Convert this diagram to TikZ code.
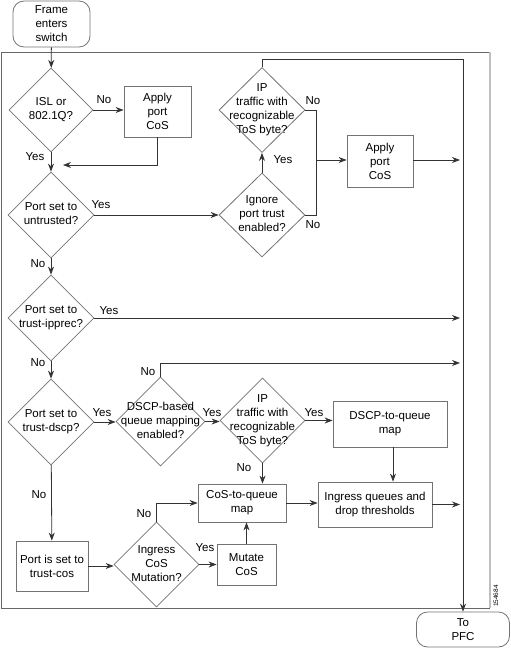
\documentclass[tikz,border=0pt]{standalone}
\usepackage{fontspec}
\setmainfont{Liberation Sans}
\usetikzlibrary{shapes.geometric,arrows.meta}
\newcommand{\dtext}[1]{\makebox[0pt]{\begin{tabular}{@{}c@{}}#1\end{tabular}}}
\begin{document}
\begin{tikzpicture}[x=1pt,y=-1pt,
  font=\fontsize{11.5}{14}\selectfont,
  shapeline/.style={draw=black!55,line width=0.8pt},
  box/.style={shapeline,rectangle,align=center,inner sep=0pt},
  term/.style={box,rounded corners=11pt},
  dia/.style={shapeline,diamond,inner sep=0pt,minimum width=86pt,minimum height=86pt},
  conn/.style={draw=black!80,line width=0.8pt},
  arr/.style={conn,-{Stealth[length=8pt,width=6pt]}},
  lab/.style={inner sep=0pt}]
\useasboundingbox (0,0) rectangle (511,648);
% outer frame
\coordinate (fa) at (1,52);
\coordinate (fb) at (490,52);
\coordinate (fc) at (490,608);
\coordinate (fd) at (1,608);
\draw[draw=black!60,line width=0.8pt] (fb) -- (fa) -- (fd) -- (fc);
\draw[draw=black!25,line width=1.2pt] (fb) -- (fc);
\node[lab,rotate=90,font=\fontsize{6.5}{7}\selectfont] (fig) at (496,596) {154684};
% nodes
\node[term,minimum width=77pt,minimum height=46pt] (start) at (51.5,24) {Frame\\enters\\switch};
\node[dia,minimum width=84pt,minimum height=84pt] (d1) at (51,110) {\dtext{ISL or\\802.1Q?}};
\node[box,minimum width=67pt,minimum height=51pt] (apply1) at (157.5,111.5) {Apply\\port\\CoS};
\node[dia] (d2) at (51,215) {\dtext{Port set to\\untrusted?}};
\node[dia,minimum height=84pt] (ign) at (262,215) {\dtext{Ignore\\port trust\\enabled?}};
\node[dia,minimum height=85pt] (ip1) at (262,110) {\dtext{IP\\traffic with\\recognizable\\ToS byte?}};
\node[box,minimum width=66pt,minimum height=52pt] (apply2) at (380,161) {Apply\\port\\CoS};
\node[dia] (d3) at (51,318) {\dtext{Port set to\\trust-ipprec?}};
\node[dia] (d4) at (51,422) {\dtext{Port set to\\trust-dscp?}};
\node[dia,minimum width=89pt,minimum height=89pt] (dscp) at (160.5,421.5) {\dtext{DSCP-based\\queue mapping\\enabled?}};
\node[dia,minimum width=85pt,minimum height=85pt] (ip2) at (262.5,420.5) {\dtext{IP\\traffic with\\recognizable\\ToS byte?}};
\node[box,minimum width=114pt,minimum height=46pt] (dmap) at (390,424) {DSCP-to-queue\\map};
\node[box,minimum width=114pt,minimum height=45pt] (ingress) at (375,504.5) {Ingress queues and\\drop thresholds};
\node[box,minimum width=88pt,minimum height=38pt] (cmap) at (242,503) {CoS-to-queue\\map};
\node[box,minimum width=72pt,minimum height=50pt] (tcos) at (52,566) {Port is set to\\trust-cos};
\node[dia,minimum width=85pt,minimum height=85pt] (mut) at (156.5,564.5) {\dtext{Ingress\\CoS\\Mutation?}};
\node[box,minimum width=59pt,minimum height=41pt] (mcos) at (246.5,564.5) {Mutate\\CoS};
\node[term,minimum width=93pt,minimum height=35pt] (pfc) at (463,629.5) {To\\PFC};
% coordinates for free ends
\coordinate (j1) at (63,165);
\coordinate (tr) at (463,59);
\coordinate (sp) at (316,160);
\coordinate (e1) at (460,160);
\coordinate (e2) at (460,318);
\coordinate (e3) at (460,363);
\coordinate (e4) at (460,504.5);
% connectors
\draw[arr] (start) -- (d1);
\draw[arr] (d1.east) -- (d1.east -| apply1.west);
\draw[arr] (apply1.south) |- (j1);
\draw[arr] (d1) -- (d2);
\draw[arr] (d2) -- (ign);
\draw[arr] (ign) -- (ip1);
\draw[arr] (ip1.north) |- (tr) -- (pfc.north);
\draw[conn] (ip1.east) -- ++(11,0) |- (ign.east);
\draw[arr] (sp) -- (sp -| apply2.west);
\draw[arr] (apply2.east |- e1) -- (e1);
\draw[arr] (d2) -- (d3);
\draw[arr] (d3) -- (e2);
\draw[arr] (d3) -- (d4);
\draw[arr] (d4) -- (d4.east -| dscp.west);
\draw[arr] (dscp.north) |- (e3);
\draw[arr] (dscp.east) -- (dscp.east -| ip2.west);
\draw[arr] (ip2.east) -- (ip2.east -| dmap.west);
\draw[arr] ([xshift=3pt]dmap.south) -- ([xshift=3pt]dmap.south |- ingress.north);
\draw[arr] (ingress.east) -- (e4);
\draw[arr] (ip2.south) -- (ip2.south |- cmap.north);
\draw[arr] (cmap.east) -- (cmap.east -| ingress.west);
\draw[arr] (d4) -- (tcos);
\draw[arr] (tcos.east) -- (tcos.east -| mut.west);
\draw[arr] (mut.north) |- (cmap.west);
\draw[arr] (mut.east) -- (mut.east -| mcos.west);
\draw[arr] (mcos.north) -- (mcos.north |- cmap.south);
% labels
\node[lab] (l1) at (104,100) {No};
\node[lab] (l2) at (35,157) {Yes};
\node[lab] (l3) at (101,205) {Yes};
\node[lab] (l4) at (38,264) {No};
\node[lab] (l5) at (283,160) {Yes};
\node[lab] (l6) at (313,101) {No};
\node[lab] (l7) at (313,225) {No};
\node[lab] (l8) at (109,311) {Yes};
\node[lab] (l9) at (38,363) {No};
\node[lab] (l10) at (148,372) {No};
\node[lab] (l11) at (102,413) {Yes};
\node[lab] (l12) at (212,413) {Yes};
\node[lab] (l13) at (314,413) {Yes};
\node[lab] (l14) at (244,468) {No};
\node[lab] (l15) at (39,495) {No};
\node[lab] (l16) at (144,514) {No};
\node[lab] (l17) at (205,548) {Yes};
\end{tikzpicture}
\end{document}
